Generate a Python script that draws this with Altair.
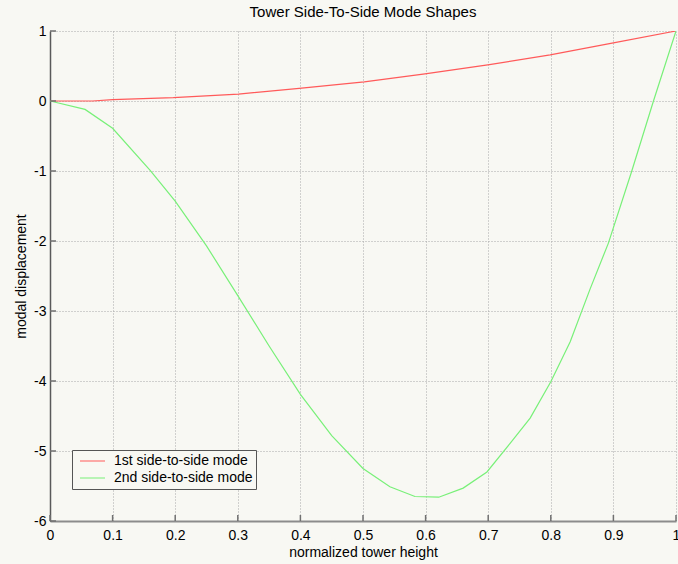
import altair as alt
import pandas as pd

# --- chart text -------------------------------------------------------------
chart_title = "Tower Side-To-Side Mode Shapes"
x_title = "normalized tower height"
y_title = "modal displacement"
mode_names = ["1st side-to-side mode", "2nd side-to-side mode"]
mode_colors = ["#ff5a5a", "#78f078"]

# --- mode shapes: normalized height vs. modal displacement ------------------
mode1_height = [0.0, 0.068, 0.10, 0.197, 0.301, 0.398, 0.502, 0.599, 0.702, 0.799, 0.90, 1.0]
mode1_disp = [0.0, 0.0, 0.019, 0.047, 0.099, 0.179, 0.274, 0.387, 0.519, 0.660, 0.830, 1.0]

mode2_height = [0.0, 0.056, 0.10, 0.16, 0.20, 0.25, 0.30, 0.35, 0.40, 0.45, 0.50,
                0.543, 0.583, 0.621, 0.66, 0.698, 0.735, 0.767, 0.80, 0.831, 0.863,
                0.892, 0.929, 0.964, 1.0]
mode2_disp = [0.0, -0.12, -0.39, -0.99, -1.43, -2.07, -2.78, -3.50, -4.19, -4.78, -5.25,
              -5.51, -5.65, -5.66, -5.53, -5.30, -4.89, -4.53, -4.01, -3.44, -2.68,
              -2.03, -1.01, 0.0, 1.0]

# --- axes -------------------------------------------------------------------
x_ticks = [0, 0.1, 0.2, 0.3, 0.4, 0.5, 0.6, 0.7, 0.8, 0.9, 1]
y_ticks = [-6, -5, -4, -3, -2, -1, 0, 1]
x_domain = [0, 1]
y_domain = [-6, 1]

plot_w, plot_h = 626, 490
tick_px = 6
bg = "#f8f8f3"
font = "Liberation Sans"

rows = []
for h, d in zip(mode1_height, mode1_disp):
    rows.append({"h": h, "d": d, "mode": mode_names[0]})
for h, d in zip(mode2_height, mode2_disp):
    rows.append({"h": h, "d": d, "mode": mode_names[1]})
curves = pd.DataFrame(rows)

x_scale = alt.Scale(domain=x_domain, nice=False, zero=False)
y_scale = alt.Scale(domain=y_domain, nice=False, zero=False)

# plain ASCII hyphen for negative tick labels
plain_label = "'' + datum.value"

lines = alt.Chart(curves).mark_line(strokeWidth=1.2, clip=True).encode(
    x=alt.X("h:Q", scale=x_scale,
            axis=alt.Axis(title=x_title, values=x_ticks, labelExpr=plain_label,
                          labelFlush=False, labelOverlap=False, grid=True,
                          ticks=False, labelPadding=7, titlePadding=3,
                          domainColor="#8c8c8c", domainWidth=2)),
    y=alt.Y("d:Q", scale=y_scale,
            axis=alt.Axis(title=y_title, values=y_ticks, labelExpr=plain_label,
                          labelFlush=False, labelOverlap=False, grid=True,
                          ticks=False, labelPadding=4, titlePadding=5,
                          domainColor="#5a5a5a", domainWidth=1.5)),
    color=alt.Color("mode:N",
                    scale=alt.Scale(domain=mode_names, range=mode_colors),
                    legend=alt.Legend(title=None, orient="none",
                                      legendX=22, legendY=419)),
    order=alt.Order("h:Q"),
)

# inward tick marks along the bottom and left edges
x_len = tick_px * (y_domain[1] - y_domain[0]) / plot_h
y_len = tick_px * (x_domain[1] - x_domain[0]) / plot_w
xt = pd.DataFrame({"h": x_ticks, "d": [y_domain[0]] * len(x_ticks),
                   "d2": [y_domain[0] + x_len] * len(x_ticks)})
yt = pd.DataFrame({"d": y_ticks, "h": [x_domain[0]] * len(y_ticks),
                   "h2": [x_domain[0] + y_len] * len(y_ticks)})

x_tick_marks = alt.Chart(xt).mark_rule(color="#707070", strokeWidth=1.5).encode(
    x="h:Q", y="d:Q", y2="d2:Q")
y_tick_marks = alt.Chart(yt).mark_rule(color="#707070", strokeWidth=1.5).encode(
    y="d:Q", x="h:Q", x2="h2:Q")

chart = alt.layer(lines, x_tick_marks, y_tick_marks).properties(
    width=plot_w, height=plot_h,
    title=alt.TitleParams(chart_title, fontSize=15, fontWeight="normal",
                          font=font, color="#000000", offset=4),
    autosize=alt.AutoSizeParams(type="none"),
    padding={"left": 50, "top": 31, "right": 2, "bottom": 43},
    background=bg,
).configure_view(
    stroke=None, fill=bg,
).configure_axis(
    labelFont=font, labelFontSize=14, labelColor="#000000",
    titleFont=font, titleFontSize=14, titleFontWeight="normal", titleColor="#000000",
    gridColor="#a8a8a8", gridDash=[1, 2], gridWidth=1, gridOpacity=1,
).configure_legend(
    symbolType="stroke", symbolSize=625, symbolStrokeWidth=1.2,
    clipHeight=16, rowPadding=1, padding=3, symbolOffset=4, labelOffset=8,
    labelFont=font, labelFontSize=14, labelColor="#000000",
    strokeColor="#555555", fillColor=bg,
)

chart.save("out.html", embed_options={"renderer": "svg", "actions": False})
